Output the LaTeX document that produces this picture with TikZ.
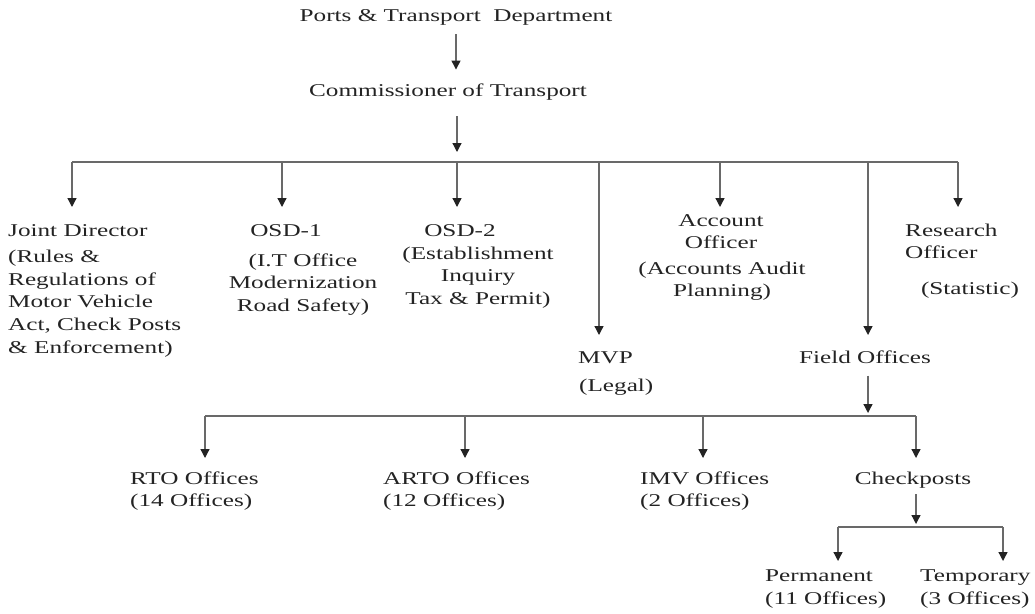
\documentclass[tikz,border=0pt]{standalone}
\usepackage{fontspec}
\setmainfont{Liberation Serif}[FakeStretch=1.4]
\usetikzlibrary{arrows.meta}
\definecolor{ink}{RGB}{35,35,35}
\definecolor{wire}{RGB}{105,105,105}
\tikzstyle{org chart}=[
    x=1pt, y=-1pt,
    unit/.style={font={\fontsize{18}{22.6}\selectfont}, text=ink, inner sep=0pt},
    unit left/.style={unit, anchor=west, align=left},
    unit mid/.style={unit, align=center},
    wire/.style={draw=wire, line width=1.3pt},
    link/.style={wire, -{Triangle[width=9pt,length=9pt,color=ink]}},
]
\newcommand{\branch}[2]{
    \foreach \t in {#2}{
        \draw[link] (\t |- #1) -- (\t);
    }
}

\begin{document}
\begin{tikzpicture}[org chart]
    \useasboundingbox (0,0) rectangle (1035,613);

    % head of the chart
    \node[unit] (dept) at (456,17) {Ports \& Transport\ \ Department};
    \node[unit] (comm) at (448,92) {Commissioner of Transport};
    \draw[link, shorten <=9pt, shorten >=14pt] (dept.south) -- (dept.south |- comm.north);

    % first level
    \node[unit left] (jd) at (8,231) {Joint Director};
    \node[unit left] (jd text) at (8,303.5) {(Rules \&\\Regulations of\\Motor Vehicle\\Act, Check Posts\\\& Enforcement)};
    \node[unit] (osd1) at (286,231) {OSD-1};
    \node[unit mid] (osd1 text) at (303,284.5) {(I.T Office\\Modernization\\Road Safety)};
    \node[unit] (osd2) at (460,231) {OSD-2};
    \node[unit mid] (osd2 text) at (478,277.5) {(Establishment\\Inquiry\\Tax \& Permit)};
    \node[unit left] (mvp) at (578,358) {MVP};
    \node[unit left] (legal) at (579,387) {(Legal)};
    \node[unit mid] (acc) at (721,231.5) {Account\\Officer};
    \node[unit mid] (acc text) at (722,281) {(Accounts Audit\\Planning)};
    \node[unit] (field) at (865,357) {Field Offices};
    \node[unit left] (res) at (905,241.5) {Research\\Officer};
    \node[unit] (res text) at (970,290) {(Statistic)};

    \coordinate (hub) at (457,162);
    \coordinate (bus1 l) at (72,162);
    \coordinate (bus1 r) at (958,162);
    \draw[wire] (bus1 l) -- (bus1 r);
    \draw[link, shorten <=16pt] (hub |- comm.south) -- ([yshift=10pt]hub);

    \coordinate (jd tip) at (72,207);
    \coordinate (osd1 tip) at (282,207);
    \coordinate (osd2 tip) at (457,207);
    \coordinate (mvp tip) at (599,335);
    \coordinate (acc tip) at (720,207);
    \coordinate (field tip) at (868,335);
    \coordinate (res tip) at (958,207);
    \branch{bus1 l}{jd tip, osd1 tip, osd2 tip, mvp tip, acc tip, field tip, res tip}

    % field offices
    \node[unit left] (rto) at (130,491) {RTO Offices\\(14 Offices)};
    \node[unit left] (arto) at (383,491) {ARTO Offices\\(12 Offices)};
    \node[unit left] (imv) at (640,491) {IMV Offices\\(2 Offices)};
    \node[unit] (check) at (913,480) {Checkposts};

    \coordinate (bus2 l) at (205,416);
    \coordinate (bus2 r) at (916,416);
    \draw[wire] (bus2 l) -- (bus2 r);
    \draw[link, shorten <=12pt] (field.south -| field tip) -- ([yshift=3pt]field tip |- bus2 l);

    \coordinate (rto tip) at (205,458);
    \coordinate (arto tip) at (465,458);
    \coordinate (imv tip) at (703,458);
    \coordinate (check tip) at (916,458);
    \branch{bus2 l}{rto tip, arto tip, imv tip, check tip}

    % checkposts
    \node[unit left] (perm) at (765,589) {Permanent\\(11 Offices)};
    \node[unit left] (temp) at (920,589) {Temporary\\(3 Offices)};

    \coordinate (bus3 l) at (838,527);
    \coordinate (bus3 r) at (1003,527);
    \draw[wire] (bus3 l) -- (bus3 r);
    \draw[link, shorten <=6pt] (check.south -| check tip) -- ([yshift=3pt]check tip |- bus3 l);

    \coordinate (perm tip) at (838,561);
    \coordinate (temp tip) at (1003,561);
    \branch{bus3 l}{perm tip, temp tip}
\end{tikzpicture}
\end{document}
